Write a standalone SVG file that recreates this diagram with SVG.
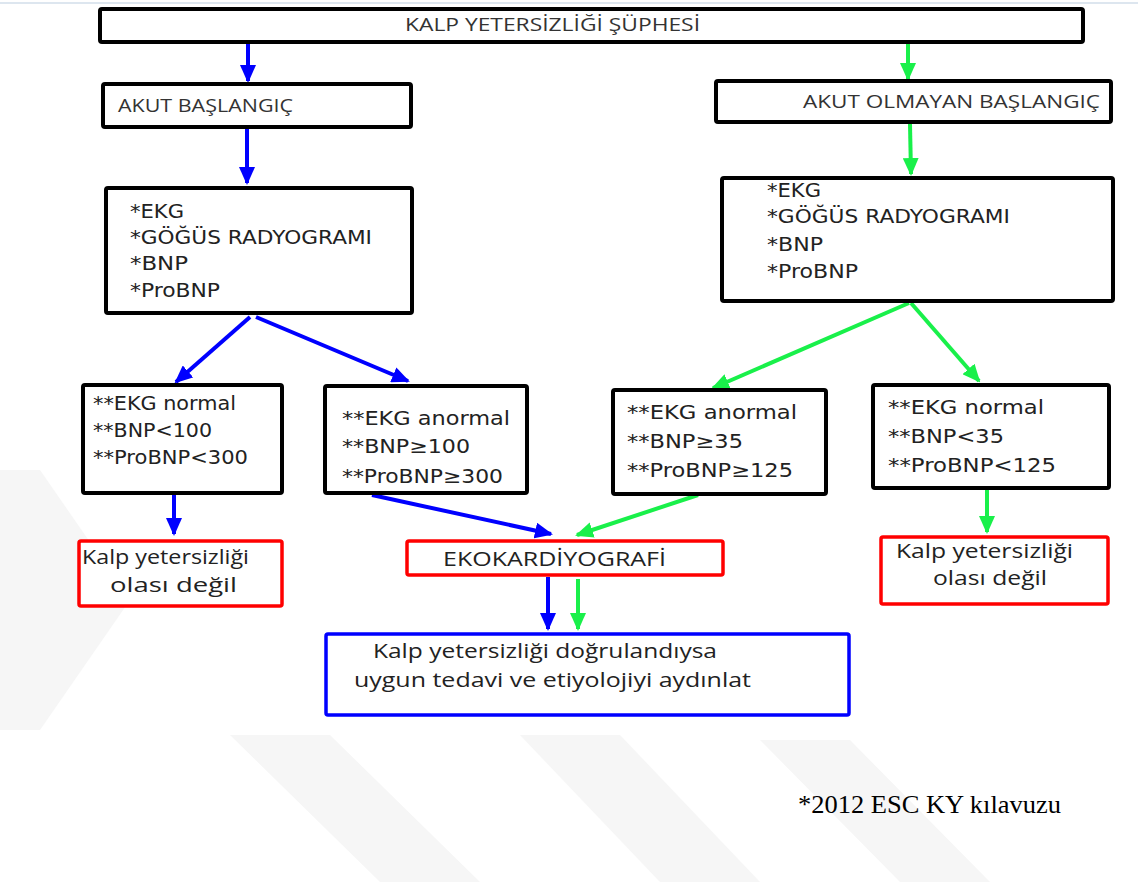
<svg xmlns="http://www.w3.org/2000/svg" width="1138" height="882" viewBox="0 0 1138 882">
<defs>
<style>
.box{fill:#fff;stroke:#000;stroke-width:4}
.red{fill:#fff;stroke:#ff0000;stroke-width:3.5}
.blu{fill:#fff;stroke:#0000ff;stroke-width:3.5}
.hd{font-family:"Open Sans",sans-serif;font-size:18px;fill:#333}
.ls{font-family:"DejaVu Sans",sans-serif;font-size:19px;fill:#222}
.ct{font-family:"Open Sans",sans-serif;font-size:20px;fill:#222}
.ab{stroke:#0000ff;stroke-width:4;fill:none}
.ag{stroke:#19f04a;stroke-width:4;fill:none}
.wm{fill:#f6f6f6}
text{white-space:pre}
</style>
<marker id="hb" markerUnits="userSpaceOnUse" markerWidth="18" markerHeight="16" refX="16" refY="8" orient="auto"><path d="M0,0 L18,8 L0,16 z" fill="#0000ff"/></marker>
<marker id="hg" markerUnits="userSpaceOnUse" markerWidth="18" markerHeight="16" refX="16" refY="8" orient="auto"><path d="M0,0 L18,8 L0,16 z" fill="#19f04a"/></marker>
</defs>
<rect width="1138" height="882" fill="#fff"/>
<g id="watermark">
<polygon class="wm" points="0,470 40,470 130,600 40,730 0,730"/>
<polygon class="wm" points="230,735 330,735 480,882 380,882"/>
<polygon class="wm" points="520,735 620,735 760,882 660,882"/>
<polygon class="wm" points="760,740 850,740 990,882 900,882"/>
</g>
<line x1="0" y1="3" x2="1138" y2="3" stroke="#dde6ef" stroke-width="2"/>
<g id="connectors">
<line class="ab" x1="248" y1="42" x2="248" y2="81" marker-end="url(#hb)"/>
<line class="ab" x1="247" y1="128" x2="247" y2="183" marker-end="url(#hb)"/>
<line class="ab" x1="250" y1="317" x2="176" y2="382" marker-end="url(#hb)"/>
<line class="ab" x1="256" y1="317" x2="408" y2="381" marker-end="url(#hb)"/>
<line class="ab" x1="174" y1="495" x2="174" y2="534" marker-end="url(#hb)"/>
<line class="ab" x1="372" y1="495" x2="551" y2="534" marker-end="url(#hb)"/>
<line class="ab" x1="548" y1="577" x2="548" y2="629" marker-end="url(#hb)"/>
<line class="ag" x1="908" y1="42" x2="908" y2="79" marker-end="url(#hg)"/>
<line class="ag" x1="910" y1="124" x2="911" y2="174" marker-end="url(#hg)"/>
<line class="ag" x1="909" y1="303" x2="713" y2="388" marker-end="url(#hg)"/>
<line class="ag" x1="911" y1="303" x2="979" y2="381" marker-end="url(#hg)"/>
<line class="ag" x1="698" y1="495" x2="577" y2="535" marker-end="url(#hg)"/>
<line class="ag" x1="987" y1="489" x2="987" y2="532" marker-end="url(#hg)"/>
<line class="ag" x1="578" y1="579" x2="578" y2="629" marker-end="url(#hg)"/>
</g>
<g id="n_suphe">
<rect class="box" x="100" y="9" width="983" height="33" rx="2"/>
<text class="hd" x="405" y="31" textLength="295" lengthAdjust="spacingAndGlyphs">KALP YETERSİZLİĞİ ŞÜPHESİ</text>
</g>
<g id="n_akut">
<rect class="box" x="103" y="84" width="308" height="43" rx="2"/>
<text class="hd" x="118" y="112" textLength="175" lengthAdjust="spacingAndGlyphs">AKUT BAŞLANGIÇ</text>
</g>
<g id="n_akut_tests">
<rect class="box" x="106" y="188" width="306" height="125" rx="2"/>
<text class="ls" x="130" y="218" textLength="54" lengthAdjust="spacingAndGlyphs">*EKG</text>
<text class="ls" x="130" y="244" textLength="242" lengthAdjust="spacingAndGlyphs">*GÖĞÜS RADYOGRAMI</text>
<text class="ls" x="130" y="270" textLength="58" lengthAdjust="spacingAndGlyphs">*BNP</text>
<text class="ls" x="130" y="297" textLength="90" lengthAdjust="spacingAndGlyphs">*ProBNP</text>
</g>
<g id="n_olmayan">
<rect class="box" x="716" y="81" width="395" height="41" rx="2"/>
<text class="hd" x="803" y="108" textLength="297" lengthAdjust="spacingAndGlyphs">AKUT OLMAYAN BAŞLANGIÇ</text>
</g>
<g id="n_olmayan_tests">
<rect class="box" x="722" y="178" width="391" height="123" rx="2"/>
<text class="ls" x="767" y="197" textLength="54" lengthAdjust="spacingAndGlyphs">*EKG</text>
<text class="ls" x="767" y="223" textLength="243" lengthAdjust="spacingAndGlyphs">*GÖĞÜS RADYOGRAMI</text>
<text class="ls" x="767" y="251" textLength="56" lengthAdjust="spacingAndGlyphs">*BNP</text>
<text class="ls" x="767" y="278" textLength="91" lengthAdjust="spacingAndGlyphs">*ProBNP</text>
</g>
<g id="n_a_normal">
<rect class="box" x="83" y="385" width="199" height="108" rx="2"/>
<text class="ls" x="93" y="410" textLength="143" lengthAdjust="spacingAndGlyphs">**EKG normal</text>
<text class="ls" x="93" y="437" textLength="119" lengthAdjust="spacingAndGlyphs">**BNP&lt;100</text>
<text class="ls" x="93" y="464" textLength="155" lengthAdjust="spacingAndGlyphs">**ProBNP&lt;300</text>
</g>
<g id="n_a_anormal">
<rect class="box" x="325" y="386" width="202" height="107" rx="2"/>
<text class="ls" x="342" y="425" textLength="168" lengthAdjust="spacingAndGlyphs">**EKG anormal</text>
<text class="ls" x="342" y="453" textLength="128" lengthAdjust="spacingAndGlyphs">**BNP≥100</text>
<text class="ls" x="342" y="483" textLength="161" lengthAdjust="spacingAndGlyphs">**ProBNP≥300</text>
</g>
<g id="n_n_anormal">
<rect class="box" x="613" y="390" width="213" height="104" rx="2"/>
<text class="ls" x="627" y="419" textLength="170" lengthAdjust="spacingAndGlyphs">**EKG anormal</text>
<text class="ls" x="627" y="448" textLength="116" lengthAdjust="spacingAndGlyphs">**BNP≥35</text>
<text class="ls" x="627" y="477" textLength="166" lengthAdjust="spacingAndGlyphs">**ProBNP≥125</text>
</g>
<g id="n_n_normal">
<rect class="box" x="873" y="385" width="236" height="103" rx="2"/>
<text class="ls" x="888" y="414" textLength="156" lengthAdjust="spacingAndGlyphs">**EKG normal</text>
<text class="ls" x="888" y="443" textLength="116" lengthAdjust="spacingAndGlyphs">**BNP&lt;35</text>
<text class="ls" x="888" y="472" textLength="168" lengthAdjust="spacingAndGlyphs">**ProBNP&lt;125</text>
</g>
<g id="n_olasi_left">
<rect class="red" x="79" y="541" width="203" height="65" rx="2"/>
<text class="ct" x="82" y="564" textLength="167" lengthAdjust="spacingAndGlyphs">Kalp yetersizliği</text>
<text class="ct" x="110" y="592" textLength="127" lengthAdjust="spacingAndGlyphs">olası değil</text>
</g>
<g id="n_eko">
<rect class="red" x="407" y="541" width="316" height="34" rx="2"/>
<text class="ct" x="443" y="566" textLength="223" lengthAdjust="spacingAndGlyphs">EKOKARDİYOGRAFİ</text>
</g>
<g id="n_olasi_right">
<rect class="red" x="881" y="537" width="227" height="67" rx="2"/>
<text class="ct" x="896" y="558" textLength="177" lengthAdjust="spacingAndGlyphs">Kalp yetersizliği</text>
<text class="ct" x="933" y="585" textLength="114" lengthAdjust="spacingAndGlyphs">olası değil</text>
</g>
<g id="n_tedavi">
<rect class="blu" x="326" y="634" width="523" height="81" rx="2"/>
<text class="ct" x="373" y="658" textLength="344" lengthAdjust="spacingAndGlyphs">Kalp yetersizliği doğrulandıysa</text>
<text class="ct" x="354" y="687" textLength="397" lengthAdjust="spacingAndGlyphs">uygun tedavi ve etiyolojiyi aydınlat</text>
</g>
<text x="798" y="813" font-family="Liberation Serif, serif" font-size="25" fill="#000" textLength="263" lengthAdjust="spacingAndGlyphs">*2012 ESC KY kılavuzu</text>
</svg>
